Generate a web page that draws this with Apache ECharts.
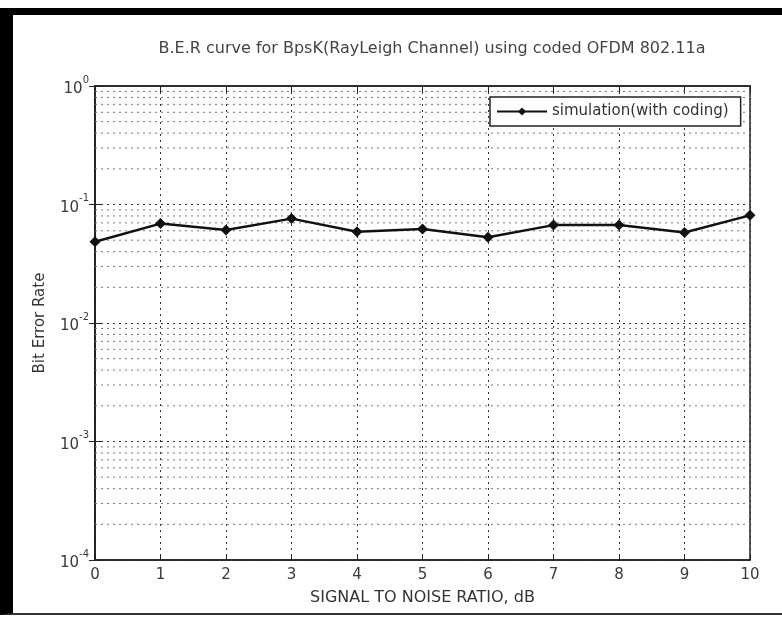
<!DOCTYPE html>
<html>
<head>
<meta charset="utf-8">
<script src="https://cdn.jsdelivr.net/npm/echarts@6/dist/echarts.min.js"></script>
<style>
html,body{margin:0;padding:0;background:#fff;}
#frame{position:absolute;left:0;top:8px;width:782px;height:607px;box-sizing:border-box;border-left:13px solid #000;border-top:7px solid #000;border-bottom:2px solid #333;}
#chart{position:absolute;left:0;top:0;width:782px;height:617px;}
</style>
</head>
<body>
<div id="frame"></div>
<div id="chart"></div>
<script>
const titleText = 'B.E.R curve for BpsK(RayLeigh Channel) using coded OFDM 802.11a';
const seriesName = 'simulation(with coding)';
const snrDb = [0, 1, 2, 3, 4, 5, 6, 7, 8, 9, 10];
const ber = [0.0485, 0.069, 0.061, 0.076, 0.059, 0.062, 0.053, 0.067, 0.067, 0.058, 0.081];
const xTicks = [0, 1, 2, 3, 4, 5, 6, 7, 8, 9, 10];
const minorGridValues = [
  2e-4,3e-4,4e-4,5e-4,6e-4,7e-4,8e-4,9e-4,
  2e-3,3e-3,4e-3,5e-3,6e-3,7e-3,8e-3,9e-3,
  2e-2,3e-2,4e-2,5e-2,6e-2,7e-2,8e-2,9e-2,
  2e-1,3e-1,4e-1,5e-1,6e-1,7e-1,8e-1,9e-1
];

const chart = echarts.init(document.getElementById('chart'));
const font = 'DejaVu Sans';
const expLabel = v => {
  const e = Math.round(Math.log10(v));
  return '{b|10}{s|' + e + '}';
};
const richExp = {
  b: {fontFamily: font, fontSize: 15, color: '#3a3a3a', padding: [7, 0, 0, 0]},
  s: {fontFamily: font, fontSize: 10, color: '#3a3a3a', verticalAlign: 'top', padding: [0, 0, 8, 0]}
};
const minorSeries = minorGridValues.map(v => ({
  type: 'line',
  silent: true,
  symbol: 'none',
  data: [[0, v], [10, v]],
  lineStyle: {color: '#777', type: [2, 4], width: 1},
  z: 1
}));
chart.setOption({
  animation: false,
  backgroundColor: 'transparent',
  title: {
    text: titleText,
    left: 427, top: 36, textAlign: 'center',
    textStyle: {fontFamily: font, fontSize: 16, fontWeight: 'normal', color: '#444'}
  },
  grid: {left: 95, right: 32, top: 86, bottom: 57, show: true, borderColor: '#222', borderWidth: 1.5, backgroundColor: 'transparent'},
  legend: {
    left: 490, top: 97,
    data: [seriesName],
    itemWidth: 50, itemHeight: 10, itemGap: 5,
    padding: [7, 12, 7, 6],
    backgroundColor: '#fff',
    borderColor: '#222', borderWidth: 1.5,
    textStyle: {fontFamily: font, fontSize: 15, color: '#333'}
  },
  xAxis: [{
    type: 'value', min: 0, max: 10, interval: 1,
    name: 'SIGNAL TO NOISE RATIO, dB', nameLocation: 'middle', nameGap: 30,
    nameTextStyle: {fontFamily: font, fontSize: 16, color: '#333'},
    axisLine: {show: true, lineStyle: {color: '#222', width: 1.5}},
    axisTick: {show: true, inside: true, length: 6, lineStyle: {color: '#222'}},
    axisLabel: {fontFamily: font, fontSize: 15, color: '#3a3a3a', margin: 8, formatter: v => xTicks.includes(v) ? String(v) : ''},
    splitLine: {show: true, lineStyle: {color: '#333', type: [2, 4], width: 1}}
  }, {
    type: 'value', min: 0, max: 10, interval: 1, position: 'top',
    axisLine: {show: true, lineStyle: {color: '#222', width: 1.5}},
    axisTick: {show: true, inside: true, length: 6, lineStyle: {color: '#222'}},
    axisLabel: {show: false}, splitLine: {show: false}
  }],
  yAxis: [{
    type: 'log', logBase: 10, min: 1e-4, max: 1,
    name: 'Bit Error Rate', nameLocation: 'middle', nameGap: 47, nameRotate: 90,
    nameTextStyle: {fontFamily: font, fontSize: 15, color: '#333'},
    axisLine: {show: true, lineStyle: {color: '#222', width: 1.5}},
    axisTick: {show: true, inside: true, length: 6, lineStyle: {color: '#222'}},
    axisLabel: {formatter: expLabel, rich: richExp, margin: 6},
    splitLine: {show: true, lineStyle: {color: '#333', type: [2, 4], width: 1}}
  }, {
    type: 'log', logBase: 10, min: 1e-4, max: 1, position: 'right',
    axisLine: {show: true, lineStyle: {color: '#222', width: 1.5}},
    axisTick: {show: true, inside: true, length: 6, lineStyle: {color: '#222'}},
    axisLabel: {show: false}, splitLine: {show: false}
  }],
  series: [{
    name: seriesName,
    type: 'line',
    data: snrDb.map((x, i) => [x, ber[i]]),
    symbol: 'diamond', symbolSize: 11,
    itemStyle: {color: '#111'},
    lineStyle: {color: '#111', width: 2.5},
    z: 5
  }].concat(minorSeries)
});
</script>
</body>
</html>
